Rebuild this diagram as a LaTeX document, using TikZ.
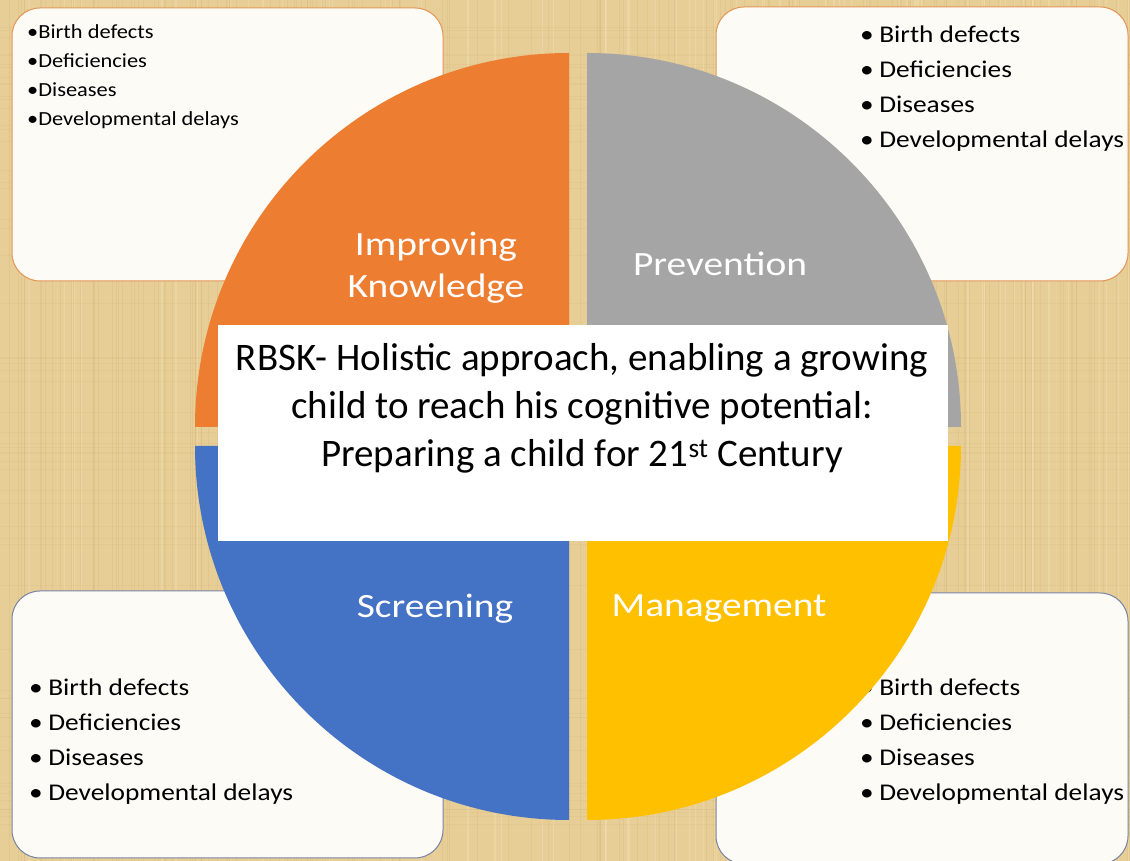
\documentclass[tikz,border=0pt]{standalone}
\usepackage{fontspec}
\setmainfont{Carlito}
\newfontfamily\listfont[FakeStretch=1.14]{Carlito}
\newfontfamily\smalllistfont[FakeStretch=1.12]{Carlito}
\newfontfamily\quarterfont[FakeStretch=1.16]{Carlito}
\usetikzlibrary{positioning}

\definecolor{papyrus}{RGB}{231,205,150}
\definecolor{papyrusdark}{RGB}{200,168,105}
\definecolor{papyruslight}{RGB}{245,228,185}
\definecolor{boxwhite}{RGB}{253,251,246}
\definecolor{warmedge}{RGB}{226,150,85}
\definecolor{cooledge}{RGB}{120,132,165}
\definecolor{qorange}{RGB}{237,125,49}
\definecolor{qgray}{RGB}{165,165,165}
\definecolor{qblue}{RGB}{68,114,196}
\definecolor{qyellow}{RGB}{255,192,0}

\newcommand{\itm}{\textbullet\kern5.5pt}

\tikzset{
  listbox/.style={rounded corners=28pt, fill=boxwhite, line width=1pt},
  smalllist/.style={anchor=north west, inner sep=0pt, align=left, font=\smalllistfont\fontsize{20}{29}\selectfont},
  biglist/.style={anchor=north west, inner sep=0pt, align=left, font=\listfont\fontsize{24}{35}\selectfont},
  qlabel/.style={text=white, align=center, inner sep=0pt, font=\quarterfont\fontsize{34}{42}\selectfont}
}

\begin{document}
\begin{tikzpicture}[x=1pt, y=1pt]
    \useasboundingbox (0,0) rectangle (1130,861);
    \fill[papyrus] (0,0) rectangle (1130,861);
    % papyrus fibres
    \pgfmathsetseed{17}
    \foreach \i in {1,...,160} {
        \pgfmathsetmacro{\xx}{rnd*1130}
        \draw[papyrusdark, opacity=0.18, line width=1pt] (\xx,0) -- (\xx,861);
    }
    \foreach \i in {1,...,80} {
        \pgfmathsetmacro{\xx}{rnd*1130}
        \draw[papyruslight, opacity=0.35, line width=1.2pt] (\xx,0) -- (\xx,861);
    }
    \foreach \i in {1,...,60} {
        \pgfmathsetmacro{\yy}{rnd*861}
        \draw[papyrusdark, opacity=0.12, line width=1pt] (0,\yy) -- (1130,\yy);
    }

    % the four lists
    \draw[listbox, draw=warmedge] (12,580) rectangle (443,853);
    \draw[listbox, draw=warmedge] (716,580) rectangle (1128,854);
    \draw[listbox, draw=cooledge] (12,3) rectangle (443,270);
    \draw[listbox, draw=cooledge] (716,-3) rectangle (1128,268);
    \node[smalllist] (knowlist) at (27,837) {\textbullet Birth defects\\\textbullet Deficiencies\\\textbullet Diseases\\\textbullet Developmental delays};
    \node[biglist] (prevlist) at (860,835) {\itm Birth defects\\\itm Deficiencies\\\itm Diseases\\\itm Developmental delays};
    \node[biglist] (screenlist) at (29,182) {\itm Birth defects\\\itm Deficiencies\\\itm Diseases\\\itm Developmental delays};
    \node[biglist] (managelist) at (860,182) {\itm Birth defects\\\itm Deficiencies\\\itm Diseases\\\itm Developmental delays};

    % quarter discs
    \fill[qorange] (569,434) -- ++(0,374) arc[start angle=90, end angle=180, radius=374] -- cycle;
    \fill[qgray] (587,434) -- ++(374,0) arc[start angle=0, end angle=90, radius=374] -- cycle;
    \fill[qblue] (569,415) -- ++(-374,0) arc[start angle=180, end angle=270, radius=374] -- cycle;
    \fill[qyellow] (587,415) -- ++(0,-374) arc[start angle=270, end angle=360, radius=374] -- cycle;

    \node[qlabel] (knowledge) at (436,593) {Improving\\Knowledge};
    \node[qlabel] (prevention) at (720,597) {Prevention};
    \node[qlabel] (screening) at (435,252) {Screening};
    \node[qlabel] (management) at (719,252) {Management};

    % centre panel
    \fill[white] (218,320) rectangle (948,536);
    \node[anchor=north, align=center, inner sep=0pt, font=\fontsize{39}{48}\selectfont] (rbsk) at (582,518)
        {RBSK- Holistic approach, enabling a growing\\child to reach his cognitive potential:\\Preparing a child for 21\textsuperscript{st} Century};
\end{tikzpicture}
\end{document}
